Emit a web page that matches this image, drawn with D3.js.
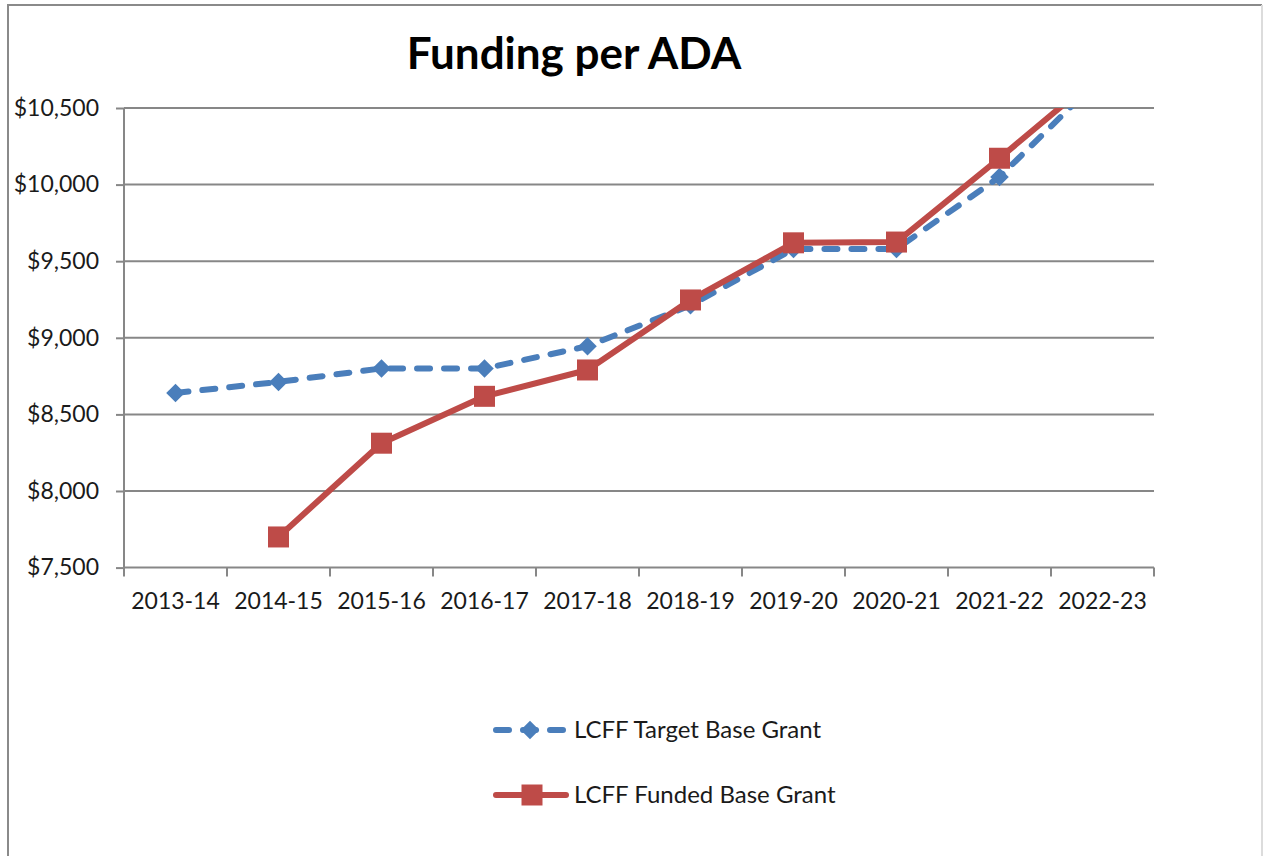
<!DOCTYPE html>
<html>
<head>
<meta charset="utf-8">
<script src="https://cdn.jsdelivr.net/npm/d3@7"></script>
<style>
body{margin:0;background:#fff;}
text{font-family:Lato,"Open Sans",sans-serif;fill:#1a1a1a;}
.grid line{stroke:#878787;stroke-width:2;}
.axis path,.axis line{stroke:#878787;stroke-width:2;}
</style>
</head>
<body>
<svg></svg>
<script>
// chart data
var years=["2013-14","2014-15","2015-16","2016-17","2017-18","2018-19","2019-20","2020-21","2021-22","2022-23"];
var targetGrant=[8640,8712,8800,8800,8945,9212,9580,9580,10050,10710];
var fundedGrant=[null,7700,8312,8618,8790,9247,9620,9625,10172,10735];
var yTicks=[7500,8000,8500,9000,9500,10000,10500];
var seriesNames=["LCFF Target Base Grant","LCFF Funded Base Grant"];

var width=1263,height=856;
var plotLeft=124,plotRight=1154,plotTop=108,plotBottom=567.6;
var blue="#4a7ebb",red="#be4b48";

var svg=d3.select("svg").attr("width",width).attr("height",height);

// outer frame
svg.append("line").attr("x1",8).attr("y1",5).attr("x2",8).attr("y2",height).attr("stroke","#8a8a8a").attr("stroke-width",2);
svg.append("line").attr("x1",7).attr("y1",5).attr("x2",1262).attr("y2",5).attr("stroke","#8a8a8a").attr("stroke-width",2);
svg.append("line").attr("x1",1262).attr("y1",5).attr("x2",1262).attr("y2",height).attr("stroke","#dcdcdc").attr("stroke-width",2);

svg.append("text")
	.attr("x",574).attr("y",69)
	.attr("text-anchor","middle")
	.style("font-size","44px").style("font-weight","700")
	.style("fill","#000")
	.text("Funding per ADA");

var x=d3.scaleBand().domain(years).range([plotLeft,plotRight]);
var y=d3.scaleLinear().domain([7500,10500]).range([plotBottom,plotTop]);

// horizontal gridlines
svg.append("g").attr("class","grid")
	.selectAll("line").data(yTicks.slice(1)).enter()
	.append("line")
	.attr("x1",plotLeft).attr("x2",plotRight)
	.attr("y1",function(d){return y(d);}).attr("y2",function(d){return y(d);});

var yAxis=svg.append("g").attr("class","axis")
	.attr("transform","translate("+plotLeft+",0)")
	.call(d3.axisLeft(y).tickValues(yTicks).tickSize(8).tickPadding(17).tickFormat(function(d){return "$"+d3.format(",")(d);}));
yAxis.selectAll("text").style("font-size","23px").style("font-family","Lato").attr("fill","#1a1a1a");
yAxis.select(".domain").attr("d","M0,"+plotBottom+"V"+plotTop);

// x axis: ticks sit on band edges, labels on band centres
var xAxis=svg.append("g").attr("class","axis")
	.attr("transform","translate(0,"+plotBottom+")");
xAxis.append("line").attr("x1",plotLeft).attr("x2",plotRight).attr("y1",0).attr("y2",0);
xAxis.selectAll(".xtick").data(years.concat(["end"])).enter()
	.append("line").attr("class","xtick")
	.attr("x1",function(d,i){return plotLeft+i*x.step();})
	.attr("x2",function(d,i){return plotLeft+i*x.step();})
	.attr("y1",0).attr("y2",9);
xAxis.selectAll(".xlabel").data(years).enter()
	.append("text").attr("class","xlabel")
	.attr("x",function(d){return x(d)+x.bandwidth()/2;})
	.attr("y",41)
	.attr("text-anchor","middle")
	.style("font-size","23px")
	.text(function(d){return d;});

svg.append("clipPath").attr("id","plotclip")
	.append("rect").attr("x",plotLeft).attr("y",plotTop).attr("width",plotRight-plotLeft).attr("height",plotBottom-plotTop);

var cx=function(d,i){return x(years[i])+x.bandwidth()/2;};
var line=d3.line()
	.defined(function(d){return d!=null;})
	.x(cx)
	.y(function(d){return y(d);});

var plot=svg.append("g").attr("clip-path","url(#plotclip)");

plot.append("path").datum(targetGrant)
	.attr("d",line).attr("fill","none")
	.attr("stroke",blue).attr("stroke-width",6)
	.attr("stroke-dasharray","13,14").attr("stroke-linecap","round");
plot.selectAll(".diamond").data(targetGrant).enter()
	.append("path").attr("class","diamond")
	.attr("d",d3.symbol().type(d3.symbolDiamond2).size(220))
	.attr("transform",function(d,i){return "translate("+cx(d,i)+","+y(d)+")";})
	.attr("fill",blue);

plot.append("path").datum(fundedGrant)
	.attr("d",line).attr("fill","none")
	.attr("stroke",red).attr("stroke-width",6)
	.attr("stroke-linejoin","round");
plot.selectAll(".square").data(fundedGrant.map(function(d,i){return [d,i];}).filter(function(d){return d[0]!=null;})).enter()
	.append("rect").attr("class","square")
	.attr("x",function(d){return cx(d[0],d[1])-10.5;})
	.attr("y",function(d){return y(d[0])-10.5;})
	.attr("width",21).attr("height",21)
	.attr("fill",red);

// legend
var legend=svg.append("g");
var legendRows=legend.selectAll("g").data(seriesNames).enter()
	.append("g")
	.attr("transform",function(d,i){return "translate(496,"+(730+i*65)+")";});
legendRows.append("line")
	.attr("x1",0).attr("x2",function(d,i){return i==0?68:70;})
	.attr("y1",0).attr("y2",0)
	.attr("stroke",function(d,i){return i==0?blue:red;})
	.attr("stroke-width",6).attr("stroke-linecap","round")
	.attr("stroke-dasharray",function(d,i){return i==0?"13,14":null;});
legendRows.append("path")
	.attr("d",function(d,i){return i==0?d3.symbol().type(d3.symbolDiamond2).size(220)():"M-10.5,-10.5h21v21h-21z";})
	.attr("transform",function(d,i){return "translate("+(i==0?34:36)+",0)";})
	.attr("fill",function(d,i){return i==0?blue:red;});
legendRows.append("text")
	.attr("x",78).attr("y",8)
	.style("font-size","24px")
	.text(function(d){return d;});
</script>
</body>
</html>
